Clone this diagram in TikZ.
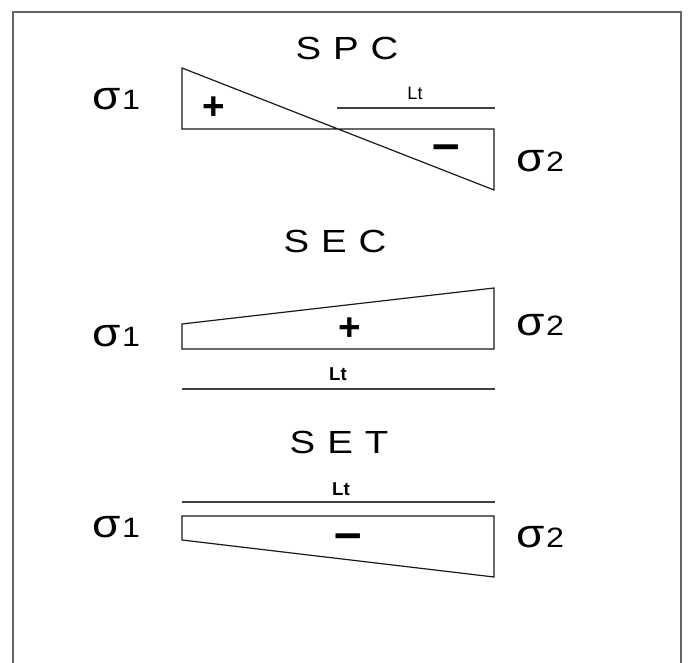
\documentclass[tikz,border=0pt]{standalone}
\usepackage{fontspec}
\setmainfont{Liberation Sans}
\newcommand{\siglab}[1]{\scalebox{1.15}[1]{\fontsize{30pt}{30pt}\selectfont σ\hspace{1pt}\fontsize{21pt}{21pt}\selectfont #1}}
\newcommand{\titlelab}[3]{\scalebox{1.2}[1]{\fontsize{24pt}{25pt}\selectfont #1\hspace{7.5pt}#2\hspace{7.5pt}#3}}
\begin{document}
\begin{tikzpicture}[x=0.75pt,y=-0.75pt,
  shp/.style={draw=black!90,line width=0.9pt,line join=miter},
  lenline/.style={draw=black!75,line width=0.9pt},
  frame/.style={draw=black!60,line width=1.1pt},
  sig/.style={anchor=base west,inner sep=0pt},
  ttl/.style={anchor=base,inner sep=0pt},
  ltreg/.style={anchor=base,inner sep=0pt,font=\fontsize{13.5pt}{14pt}\selectfont},
  ltbold/.style={anchor=base,inner sep=0pt,font=\fontsize{14pt}{14pt}\selectfont\bfseries},
  plussign/.style={anchor=base,inner sep=0pt,font=\fontsize{29pt}{29pt}\selectfont\bfseries},
  minussign/.style={anchor=base,inner sep=0pt,font=\fontsize{37pt}{37pt}\selectfont\bfseries}]
\useasboundingbox (0,0) rectangle (697,663);
\fill[white] (0,0) rectangle (697,663);
% frame
\coordinate (fbl) at (13,670);
\coordinate (ftl) at (13,12);
\coordinate (ftr) at (681,12);
\coordinate (fbr) at (681,670);
\draw[frame] (fbl) -- (ftl) -- (ftr) -- (fbr);

% ---------- SPC ----------
\node[ttl] (tspc) at (347,60) {\titlelab{S}{P}{C}};
\coordinate (a1) at (182,68);
\coordinate (a2) at (182,129);
\coordinate (a3) at (494,129);
\coordinate (a4) at (494,190);
\draw[shp] (a1) -- (a2) -- (a3) -- (a4) -- cycle;
\coordinate (l1s) at (337,108);
\coordinate (l1e) at (495,108);
\draw[lenline] (l1s) -- (l1e);
\node[ltreg] (lt1) at (415,100) {Lt};
\node[plussign] (p1) at (213.5,120) {+};
\node[minussign] (m1) at (446.5,160.5) {–};
\node[sig] (s1a) at (92,110) {\siglab{1}};
\node[sig] (s2a) at (516,172) {\siglab{2}};

% ---------- SEC ----------
\node[ttl] (tsec) at (335,253) {\titlelab{S}{E}{C}};
\coordinate (b1) at (182,324);
\coordinate (b2) at (182,349);
\coordinate (b3) at (494,349);
\coordinate (b4) at (494,288);
\draw[shp] (b1) -- (b2) -- (b3) -- (b4) -- cycle;
\coordinate (l2s) at (182,389);
\coordinate (l2e) at (495,389);
\draw[lenline] (l2s) -- (l2e);
\node[ltbold] (lt2) at (338,380) {Lt};
\node[plussign] (p2) at (349.5,340.5) {+};
\node[sig] (s1b) at (92,346) {\siglab{1}};
\node[sig] (s2b) at (516,335) {\siglab{2}};

% ---------- SET ----------
\node[ttl] (tset) at (339,453) {\titlelab{S}{E}{T}};
\coordinate (l3s) at (182,502);
\coordinate (l3e) at (495,502);
\draw[lenline] (l3s) -- (l3e);
\node[ltbold] (lt3) at (341,495) {Lt};
\coordinate (c1) at (182,516);
\coordinate (c2) at (494,516);
\coordinate (c3) at (494,577);
\coordinate (c4) at (182,540);
\draw[shp] (c1) -- (c2) -- (c3) -- (c4) -- cycle;
\node[minussign] (m3) at (348.5,549.5) {–};
\node[sig] (s1c) at (92,537) {\siglab{1}};
\node[sig] (s2c) at (516,547) {\siglab{2}};
\end{tikzpicture}
\end{document}
